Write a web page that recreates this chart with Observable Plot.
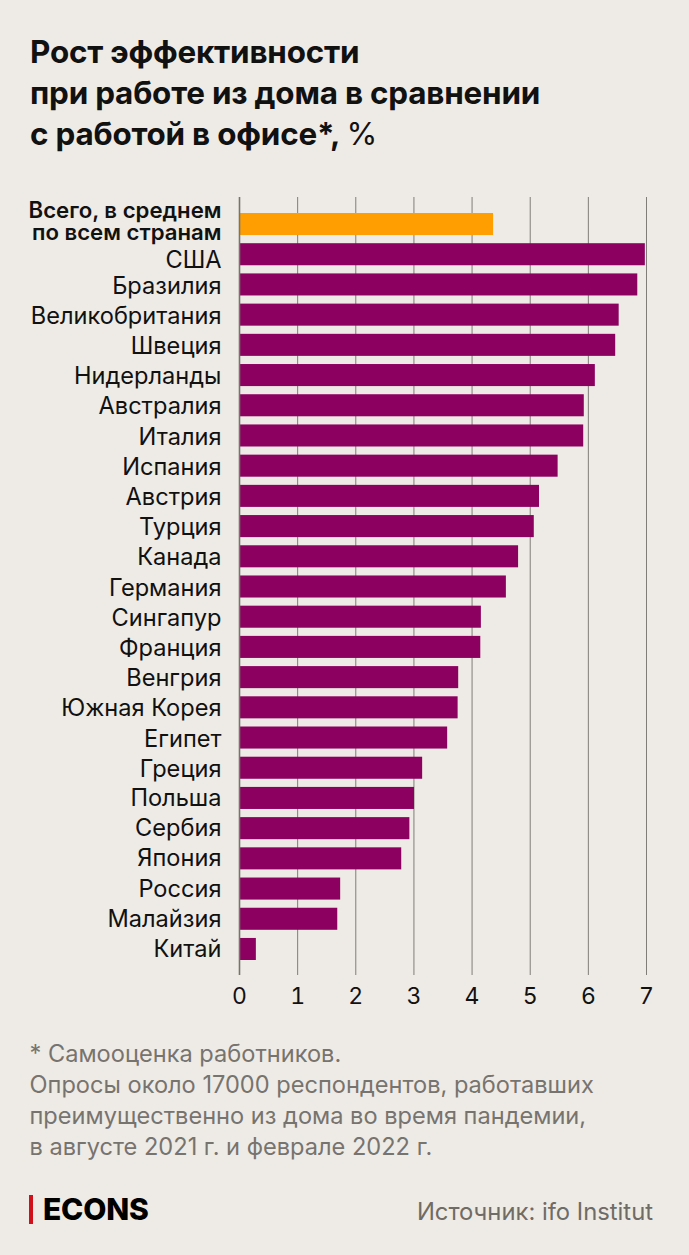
<!DOCTYPE html>
<html lang="ru"><head><meta charset="utf-8">
<script src="https://cdn.jsdelivr.net/npm/d3@7"></script>
<script src="https://cdn.jsdelivr.net/npm/@observablehq/plot@0.6"></script>
<style>
html,body{margin:0;padding:0;background:#eeebe6;width:689px;height:1255px;overflow:hidden;font-family:Inter,sans-serif}
#page{position:relative;width:689px;height:1255px}
#title{position:absolute;left:30px;top:32px;font-size:31.4px;line-height:41px;font-weight:700;color:#111;letter-spacing:-.2px;white-space:nowrap}
#title span{font-weight:400}
#chart{position:absolute;left:0;top:190px}
#note{position:absolute;left:29.5px;top:1037.5px;font-size:23.6px;line-height:31.3px;color:#77736e;white-space:nowrap}
#brand{position:absolute;left:29px;top:1195px;border-left:4px solid #d0101a;padding-left:10px;height:29px;line-height:29px;font-size:30px;font-weight:800;color:#000;letter-spacing:-.2px}
#source{position:absolute;right:36px;top:1197px;font-size:23.8px;line-height:30px;color:#6f6b67;white-space:nowrap}
</style></head><body><div id="page">
<div id="title">Рост эффективности<br>при работе из дома в сравнении<br>с работой в офисе*, <span>%</span></div>
<div id="chart"></div>
<div id="note">* Самооценка работников.<br>Опросы около 17000 респондентов, работавших<br>преимущественно из дома во время пандемии,<br>в августе 2021 г. и феврале 2022 г.</div>
<div id="brand">ECONS</div>
<div id="source">Источник: ifo Institut</div>
</div>
<script>
const totalLabel = "Всего, в среднем\nпо всем странам";
const categories = [totalLabel,"США","Бразилия","Великобритания","Швеция","Нидерланды","Австралия","Италия","Испания","Австрия","Турция","Канада","Германия","Сингапур","Франция","Венгрия","Южная Корея","Египет","Греция","Польша","Сербия","Япония","Россия","Малайзия","Китай"];
const values = [4.37,6.98,6.85,6.53,6.47,6.12,5.93,5.92,5.48,5.16,5.07,4.80,4.59,4.16,4.15,3.77,3.76,3.58,3.15,3.01,2.93,2.79,1.74,1.69,0.29];
const xTicks = [0,1,2,3,4,5,6,7];
const rows = categories.map((name,i)=>({name,value:values[i]}));
const label = (subset,dy,extra={}) => Plot.text(subset,{x:0,y:"name",text:"name",textAnchor:"end",dx:-18,dy,fontSize:23.6,fill:"#111",...extra});
const chart = Plot.plot({
  width:689,height:840,
  marginTop:7,marginBottom:55,marginLeft:239,marginRight:43,
  style:{background:"transparent",fontFamily:"Inter, sans-serif"},
  x:{domain:[0,7],label:null},
  y:{domain:categories,range:[23,770],round:false,paddingInner:0.27,paddingOuter:0,label:null},
  marks:[
    Plot.ruleX(xTicks.slice(1),{stroke:"#807d79",strokeWidth:1}),
    Plot.barX(rows,{x:"value",y:"name",fill:d=>d.name===totalLabel?"#ff9e00":"#8c0060"}),
    Plot.ruleX([0],{stroke:"#77736f",strokeWidth:1.6}),
    Plot.axisX({ticks:xTicks,tickSize:0,tickPadding:12,fontSize:23,color:"#111",label:null,tickFormat:d=>d}),
    Plot.axisY({ticks:[],label:null}),
    label(rows.slice(0,1),-3,{fontSize:22.2,fontWeight:600,lineHeight:1}),
    label(rows.slice(1,2),6),
    label(rows.slice(2,19),1),
    label(rows.slice(19),0)
  ]
});
document.getElementById("chart").append(chart);
</script></body></html>
